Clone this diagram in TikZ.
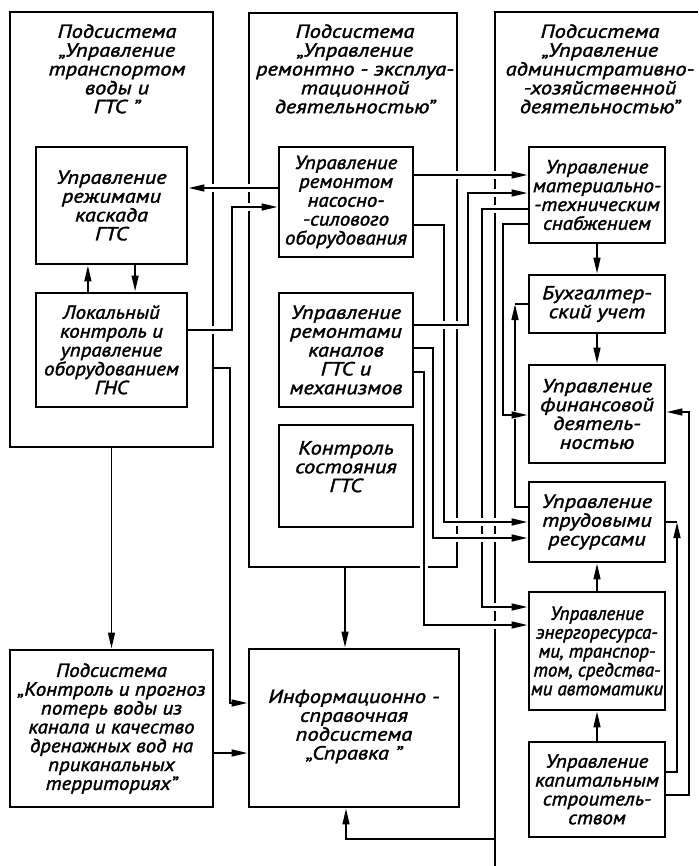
\documentclass[tikz,border=0pt]{standalone}
\usepackage{fontspec}
\newfontfamily\gost{PT Sans}[FakeStretch = 1.18, FakeBold = 1.8]
\newfontfamily\gostm{PT Sans}[FakeStretch = 1.1, FakeBold = 1.8]
\newfontfamily\gostn{PT Sans}[FakeStretch = 1.0, FakeBold = 1.8]
\usetikzlibrary{arrows.meta, positioning}
\tikzset{x = 0.25mm, y = -0.25mm,
	 >= {Triangle[length = 4mm, width = 1.7mm]},
	 node distance = 30mm, on grid,
	 every node/.style = {font = \gost\itshape\fontsize{13.5}{13.4}\selectfont,
			      align = center},
	 tight/.style = {font = \gostm\itshape\fontsize{13.5}{13.4}\selectfont,
			 inner xsep = 0pt},
	 narrow/.style = {font = \gostn\itshape\fontsize{13.5}{13.4}\selectfont,
			  inner xsep = 0pt},
	 block/.style = {draw, line width = 2pt, inner sep = 1pt},
	 lbox/.style = {block, minimum width = 37.75mm},
	 mbox/.style = {block, minimum width = 33.5mm},
	 rbox/.style = {block, minimum width = 34mm},
	 subsys/.style = {draw, line width = 1.5pt},
	 head/.style = {anchor = north, inner sep = 0pt},
	 wire/.style = {line width = 1.4pt},
	 link/.style = {wire,
			preaction = {draw = white, line width = 5.5pt, arrows = -,
				     shorten <= 3pt, shorten >= 3pt}}}

\begin{document}
\begin{tikzpicture}
  \useasboundingbox (0, 0) rectangle (698, 866);

  % subsystem frames
  \node [subsys, minimum width = 50.75mm, minimum height = 108.75mm] (subA) at (111.5, 229.5) {};
  \node [subsys, minimum width = 52mm, minimum height = 138.5mm] (subB) at (353, 290) {};
  \coordinate (cT) at (698, 12);
  \coordinate (cC) at (495, 12);
  \coordinate (cB) at (495, 866);
  \coordinate (sprav) at (495, 839);
  \draw [subsys] (cT) -- (cC) -- (cB);

  \node [head] (tA) at (117, 24) {Подсистема\\„Управление\\транспортом\\воды и\\ГТС ”};
  \node [head] (tB) at (355, 24) {Подсистема\\„Управление\\ремонтно - эксплуа-\\тационной\\деятельностью”};
  \node [head] (tC) at (600, 24) {Подсистема\\„Управление\\административно-\\-хозяйственной\\деятельностью”};

  % left column
  \node [lbox, minimum height = 29.25mm] (reg) at (111.5, 205.5) {Управление\\режимами\\каскада\\ГТС};
  \node [lbox, minimum height = 28.5mm, tight] (loc) [below of = reg, node distance = 36.1mm]
	{Локальный\\контроль и\\управление\\оборудованием\\ГНС};

  % middle column
  \node [mbox, minimum height = 27.5mm, tight] (rem) at (346, 202)
	{Управление\\ремонтом\\насосно-\\-силового\\оборудования};
  \node [mbox, minimum height = 28.5mm] (kan) [below of = rem, node distance = 37mm]
	{Управление\\ремонтами\\каналов\\ГТС и\\механизмов};
  \node [mbox, minimum height = 25.5mm] (sost) [below of = kan, node distance = 31.5mm]
	{Контроль\\состояния\\ГТС\\ \mbox{}};

  % right column
  \node [rbox, minimum height = 24mm, tight] (mat) at (597, 195)
	{Управление\\материально-\\-техническим\\снабжением};
  \node [rbox, minimum height = 14.5mm] (buh) [below of = mat, node distance = 27.25mm]
	{Бухгалтер-\\ский учет};
  \node [rbox, minimum height = 24.5mm] (fin) [below of = buh, node distance = 27.5mm]
	{Управление\\финансовой\\деятель-\\ностью};
  \node [rbox, minimum height = 20mm] (trud) [below of = fin, node distance = 27mm]
	{Управление\\трудовыми\\ресурсами};
  \node [rbox, minimum height = 29.5mm, narrow] (energ) [below of = trud, node distance = 32.25mm]
	{Управление\\энергоресурса-\\ми, транспор-\\том, средства-\\ми автоматики};
  \node [rbox, minimum height = 23.75mm, tight] (kap) [below of = energ, node distance = 34.6mm]
	{Управление\\капитальным\\строитель-\\ством};

  % bottom row
  \node [block, minimum width = 50.75mm, minimum height = 39.25mm, tight] (prog) at (111.5, 728.5)
	{Подсистема\\„Контроль и прогноз\\потерь воды из\\канала и качество\\дренажных вод на\\приканальных\\территориях”};
  \node [block, minimum width = 52.5mm, minimum height = 39.5mm] (info) at (354, 728)
	{Информационно -\\справочная\\подсистема\\„Справка ”\\[-3mm]\mbox{}};

  % links inside and out of the left subsystem
  \draw [->, wire] ([xshift = -5.9mm]loc.north) -- ([xshift = -5.9mm]reg.south);
  \draw [->, wire] ([xshift = 5.9mm]reg.south) -- ([xshift = 5.9mm]loc.north);
  \draw [link, ->] (rem.west |- 0,188) -- (reg.east |- 0,188);
  \draw [link, ->] (loc.east |- 0,330) -| (232,207) -- (rem.west |- 0,207);
  \draw [link, ->] (subA.east |- 0,368) -| (230,703) -- (info.west |- 0,703);
  \path [->, wire] (subA) edge (prog);
  \draw [link, ->] (prog.east |- 0,753) -- (info.west |- 0,753);
  \draw [->, wire] (subB.south -| 345,0) -- (info.north -| 345,0);
  \draw [link, ->] (sprav) -| ([xshift = -2mm]info.south);

  % links to the administrative subsystem
  \draw [link, ->] (mat.west |- 0,209) -| (482,607) -- (energ.west |- 0,607);
  \draw [link, ->] (rem.east |- 0,225) -| (444,522) -- (trud.west |- 0,522);
  \draw [link, ->] (rem.east |- 0,175) -- (mat.west |- 0,175);
  \draw [link, ->] (kan.east |- 0,325) -| (468,193) -- (mat.west |- 0,193);
  \draw [link, ->] (kan.east |- 0,348) -| (433,538) -- (trud.west |- 0,538);
  \draw [link, ->] (kan.east |- 0,372) -| (424,625) -- (energ.west |- 0,625);
  \draw [link, ->] (trud.west |- 0,507) -| (515,0 |- buh.west);
  \draw [wire] (515,0 |- buh.west) -- (buh.west);
  \draw [link, ->] (mat.west |- 0,224) -| (503,415) -- (fin.west |- 0,415);

  % links inside the administrative subsystem
  \path [->, wire] (mat) edge (buh)
		   (buh) edge (fin)
		   (energ) edge (trud)
		   (kap) edge (energ);
  \draw [link, ->] (kap.east |- 0,772) -| (677,0 |- trud.east);
  \draw [wire] (677,0 |- trud.east) -- (trud.east);
  \draw [link, ->] (kap.east |- 0,795) -| (689,412) -- (fin.east |- 0,412);
\end{tikzpicture}
\end{document}
